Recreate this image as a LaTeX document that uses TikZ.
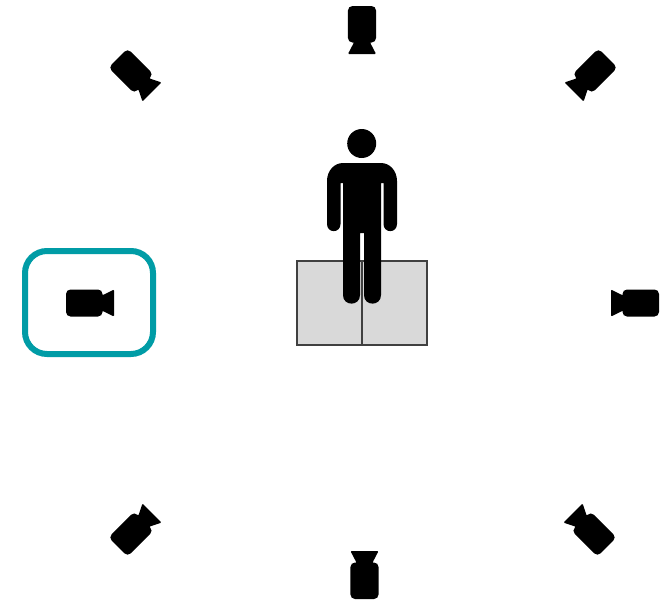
\documentclass[tikz,border=0pt]{standalone}
\definecolor{tealframe}{HTML}{009CA6}
\definecolor{boxgrey}{HTML}{D9D9D9}
\definecolor{boxline}{HTML}{404040}
\tikzset{
  x=1pt,y=-1pt,
  standbox/.style={fill=boxgrey,draw=boxline,line width=1.1pt},
  figure/.style={fill=black,draw=none},
  frame/.style={draw=tealframe,line width=6pt,rounded corners=22pt},
  camera/.pic={
    \fill[black,rounded corners=4.5pt] (-24,-13.5) rectangle (12.5,13.5);
    \fill[black,rounded corners=1pt] (9,-8) -- (13,-8) -- (24,-13.5) -- (24,13.5) -- (13,8) -- (9,8) -- cycle;
  }
}
\begin{document}
\begin{tikzpicture}
\useasboundingbox[fill=white] (0,0) rectangle (670,600);
% stand
\draw[standbox] (297,261) rectangle (362,345);
\draw[standbox] (362,261) rectangle (427,345);
% person
\fill[figure] (361.7,143.5) circle (14.5);
\fill[figure]
  (343,163) -- (381,163)
  .. controls (390,163) and (397,171) .. (397,181)
  -- (397,224) .. controls (397,233.5) and (383.5,233.5) .. (383.5,224)
  -- (383.5,183) -- (381,183) -- (381,295)
  .. controls (381,306.5) and (364,306.5) .. (364,295)
  -- (364,233) -- (360,233) -- (360,295)
  .. controls (360,306.5) and (343,306.5) .. (343,295)
  -- (343,183) -- (340.5,183) -- (340.5,224)
  .. controls (340.5,233.5) and (327,233.5) .. (327,224)
  -- (327,181) .. controls (327,171) and (334,163) .. (343,163) -- cycle;
% selection frame
\draw[frame] (25,251) rectangle (153,354);
% cameras
\pic at (90,303) {camera};
\pic[rotate=-45] at (135,75) {camera};
\pic[rotate=-90,yscale=1.04] at (362,30) {camera};
\pic[rotate=-135] at (591,75) {camera};
\pic[rotate=180] at (635,303) {camera};
\pic[rotate=135] at (590,530) {camera};
\pic[rotate=90,yscale=1.04] at (364.5,575) {camera};
\pic[rotate=45] at (135,530) {camera};
\end{tikzpicture}
\end{document}
